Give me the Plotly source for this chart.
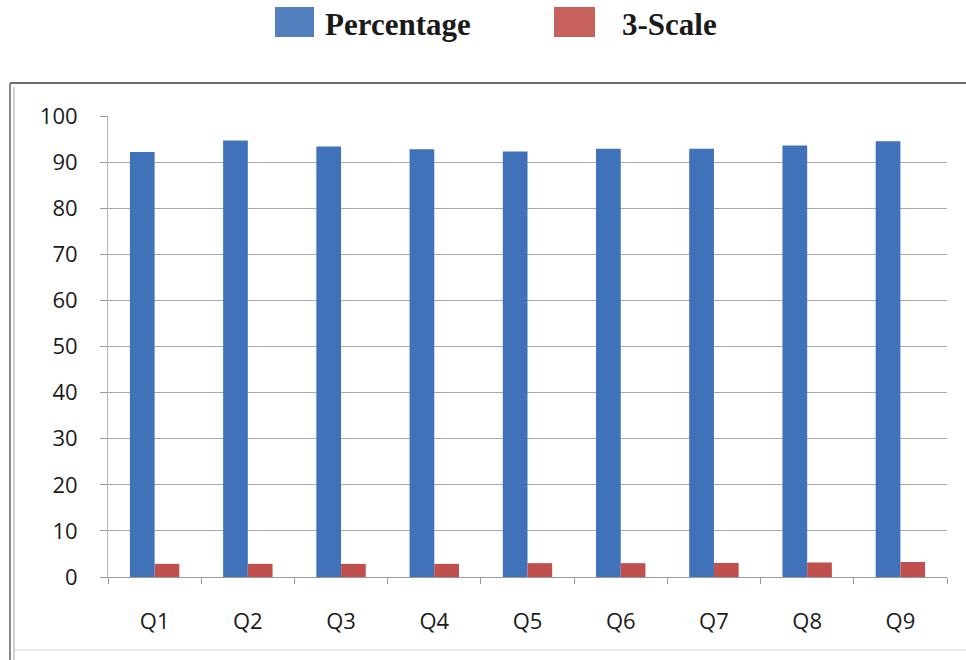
import plotly.graph_objects as go

categories = ["Q1", "Q2", "Q3", "Q4", "Q5", "Q6", "Q7", "Q8", "Q9"]
percentage = [92.2, 94.7, 93.4, 92.8, 92.3, 92.9, 92.9, 93.6, 94.5]
three_scale = [2.85, 2.85, 2.85, 2.85, 3.0, 3.0, 3.05, 3.15, 3.25]
y_ticks = [0, 10, 20, 30, 40, 50, 60, 70, 80, 90, 100]
series_names = ["Percentage", "3-Scale"]
colors = ["#3F72B8", "#C0504D"]

W, H = 966, 660
L, R, T, B = 108, 19, 116, 83
pw, ph = W - L - R, H - T - B

def px(x):
    return (x - L) / pw

def py(y):
    return (H - B - y) / ph

fig = go.Figure()
fig.add_trace(go.Bar(x=categories, y=percentage, name=series_names[0],
                     marker=dict(color=colors[0], line=dict(width=0))))
fig.add_trace(go.Bar(x=categories, y=three_scale, name=series_names[1],
                     marker=dict(color=colors[1], line=dict(width=0))))

tick_font = dict(family="Open Sans, Lato, sans-serif", size=22, color="#1a1a1a")

fig.update_layout(
    width=W, height=H,
    margin=dict(l=L, r=R, t=T, b=B),
    paper_bgcolor="white", plot_bgcolor="white",
    barmode="group", bargap=0.47, bargroupgap=0,
    showlegend=False,
    xaxis=dict(
        showline=True, linecolor="#9a9a9a", linewidth=1,
        ticks="outside", tickson="boundaries", ticklen=6, tickcolor="#9a9a9a",
        tickfont=tick_font, ticklabelstandoff=25,
        showgrid=False,
    ),
    yaxis=dict(
        range=[0, 100], tickvals=y_ticks,
        showline=True, linecolor="#b5b5b5", linewidth=1,
        ticks="outside", ticklen=7, tickcolor="#9a9a9a",
        showgrid=True, gridcolor="#a8a8a8", gridwidth=1,
        zeroline=False,
        tickfont=tick_font, ticklabelstandoff=18,
    ),
)

# outer chart frame: dark top line, double left line, light bottom line
frame_lines = [
    (10, 83, 966, 83, "#6e6e6e", 2),
    (10, 83, 10, 660, "#8a8a8a", 2),
    (14, 87, 14, 660, "#a0a0a0", 1),
    (14, 650, 966, 650, "#d0d0d0", 1),
]
for x0, y0, x1, y1, c, w in frame_lines:
    fig.add_shape(type="line", xref="paper", yref="paper",
                  x0=px(x0), x1=px(x1), y0=py(y0), y1=py(y1),
                  line=dict(color=c, width=w), layer="below")

# legend swatches and labels
legend_font = dict(family="Liberation Serif, Times New Roman, serif", size=31, color="#1a1a1a")
swatches = [(275, 314, 323), (554, 595, 620)]
for (x0, x1, tx), name, c in zip(swatches, series_names, colors):
    fig.add_shape(type="rect", xref="paper", yref="paper",
                  x0=px(x0), x1=px(x1), y0=py(37), y1=py(7),
                  fillcolor=c, line=dict(width=0), opacity=0.9)
    fig.add_annotation(xref="paper", yref="paper", x=px(tx), y=py(25),
                       text="<b>" + name + "</b>", showarrow=False,
                       xanchor="left", yanchor="middle", font=legend_font)

fig.write_html("out.html", config={"displayModeBar": False},
               post_script="document.body.style.margin='0';document.body.style.overflow='hidden';")
